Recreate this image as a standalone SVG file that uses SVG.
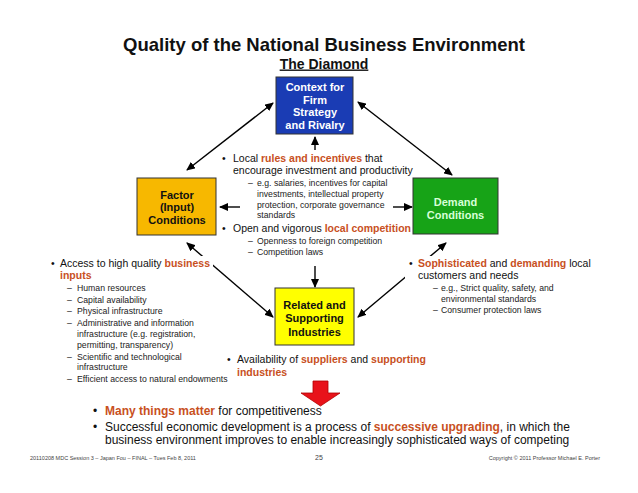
<svg xmlns="http://www.w3.org/2000/svg" width="638" height="493" viewBox="0 0 638 493">
<style>
text{font-family:"Liberation Sans",Arial,sans-serif;fill:#111}
.ttl{font-size:18.5px;font-weight:bold;text-anchor:middle}
.sub{font-size:14px;font-weight:bold;text-anchor:middle;text-decoration:underline}
.box{stroke:#333;stroke-width:1}
.bg{fill:#fff;stroke:none}
.bl{font-size:11px;font-weight:bold;text-anchor:middle}
.m{font-size:10.5px}
.s{font-size:8.7px;fill:#222}
.o{fill:#c8501e;font-weight:bold}
.big{font-size:12px}
.ft{font-size:5.5px;fill:#444}
.con{stroke:#000;stroke-width:1.4;fill:none}
</style>
<defs>
<marker id="ah" markerUnits="userSpaceOnUse" markerWidth="9" markerHeight="8" refX="8" refY="4" orient="auto-start-reverse">
<path d="M0,0 L9,4 L0,8 z" fill="#000"/>
</marker>
</defs>
<rect width="638" height="493" fill="#fff"/>
<text class="ttl" x="324" y="51">Quality of the National Business Environment</text>
<text class="sub" x="324" y="68.5">The Diamond</text>

<g id="connectors">
<line class="con" x1="273" y1="103" x2="187" y2="170" marker-start="url(#ah)" marker-end="url(#ah)"/>
<line class="con" x1="358" y1="102" x2="452" y2="175" marker-start="url(#ah)" marker-end="url(#ah)"/>
<line class="con" x1="187" y1="243" x2="273" y2="317" marker-start="url(#ah)" marker-end="url(#ah)"/>
<line class="con" x1="446" y1="243" x2="358" y2="317" marker-start="url(#ah)" marker-end="url(#ah)"/>
<line class="con" x1="315" y1="150" x2="315" y2="137" marker-end="url(#ah)"/>
<line class="con" x1="315" y1="266" x2="315" y2="287" marker-end="url(#ah)"/>
<line class="con" x1="240" y1="207" x2="220" y2="207" marker-end="url(#ah)"/>
<line class="con" x1="393" y1="207" x2="412" y2="207" marker-end="url(#ah)"/>
</g>

<g id="context">
<rect class="box" x="276" y="77" width="77" height="57" fill="#1a3cb4"/>
<text class="bl" style="fill:#fff" x="315" y="91">Context for</text>
<text class="bl" style="fill:#fff" x="315" y="103.5">Firm</text>
<text class="bl" style="fill:#fff" x="315" y="116">Strategy</text>
<text class="bl" style="fill:#fff" x="315" y="128.5">and Rivalry</text>
</g>

<g id="factor">
<rect class="box" x="137" y="178" width="79" height="57" fill="#f7b800"/>
<text class="bl" x="177" y="198.5">Factor</text>
<text class="bl" x="177" y="211">(Input)</text>
<text class="bl" x="177" y="223.5">Conditions</text>
</g>

<g id="demand">
<rect class="box" x="413" y="178" width="85" height="56" fill="#17a317"/>
<text class="bl" style="fill:#d8ffd8" x="455.5" y="206">Demand</text>
<text class="bl" style="fill:#d8ffd8" x="455.5" y="218.5">Conditions</text>
</g>

<g id="related">
<rect class="box" x="275" y="288" width="79" height="57" fill="#ffff00"/>
<text class="bl" x="314.5" y="309">Related and</text>
<text class="bl" x="314.5" y="322">Supporting</text>
<text class="bl" x="314.5" y="335.5">Industries</text>
</g>

<g id="context-text">
<text class="m" x="222" y="162">•</text>
<text class="m" x="233" y="162">Local <tspan class="o">rules and incentives</tspan> that</text>
<text class="m" x="233" y="174">encourage investment and productivity</text>
<text class="s" x="248" y="186">–</text>
<text class="s" x="257" y="186">e.g. salaries, incentives for capital</text>
<text class="s" x="257" y="197">investments, intellectual property</text>
<text class="s" x="257" y="208">protection, corporate governance</text>
<text class="s" x="257" y="218">standards</text>
<text class="m" x="222" y="232">•</text>
<text class="m" x="233" y="232">Open and vigorous <tspan class="o">local competition</tspan></text>
<text class="s" x="248" y="244">–</text>
<text class="s" x="257" y="244">Openness to foreign competition</text>
<text class="s" x="248" y="255">–</text>
<text class="s" x="257" y="255">Competition laws</text>
</g>

<g id="factor-text">
<rect class="bg" x="45" y="256" width="168" height="130"/>
<text class="m" x="51" y="267">•</text>
<text class="m" x="60" y="267">Access to high quality <tspan class="o">business</tspan></text>
<text class="m o" x="60" y="279">inputs</text>
<text class="s" x="67" y="291">–</text><text class="s" x="77" y="291">Human resources</text>
<text class="s" x="67" y="302.5">–</text><text class="s" x="77" y="302.5">Capital availability</text>
<text class="s" x="67" y="314">–</text><text class="s" x="77" y="314">Physical infrastructure</text>
<text class="s" x="67" y="325.5">–</text><text class="s" x="77" y="325.5">Administrative and information</text>
<text class="s" x="77" y="337">infrastructure (e.g. registration,</text>
<text class="s" x="77" y="348">permitting, transparency)</text>
<text class="s" x="67" y="359.5">–</text><text class="s" x="77" y="359.5">Scientific and technological</text>
<text class="s" x="77" y="370">infrastructure</text>
<text class="s" x="67" y="381.5">–</text><text class="s" x="77" y="381.5">Efficient access to natural endowments</text>
</g>

<g id="demand-text">
<rect class="bg" x="405" y="256" width="192" height="61"/>
<text class="m" x="409" y="267">•</text>
<text class="m" x="418" y="267"><tspan class="o">Sophisticated</tspan> and <tspan class="o">demanding</tspan> local</text>
<text class="m" x="418" y="279">customers and needs</text>
<text class="s" x="433" y="291">–</text><text class="s" x="441" y="291">e.g., Strict quality, safety, and</text>
<text class="s" x="441" y="302">environmental standards</text>
<text class="s" x="433" y="313">–</text><text class="s" x="441" y="313">Consumer protection laws</text>
</g>

<g id="related-text">
<text class="m" x="227" y="363">•</text>
<text class="m" x="237" y="363">Availability of <tspan class="o">suppliers</tspan> and <tspan class="o">supporting</tspan></text>
<text class="m o" x="237" y="376">industries</text>
</g>

<g id="down-arrow">
<polygon points="313,381 328,381 328,393 340,393 320.5,406 301,393 313,393" fill="#e8121a" stroke="#b00000" stroke-width="0.8"/>
</g>

<g id="conclusions">
<text class="big" x="93" y="415">•</text>
<text class="big" x="105" y="415"><tspan class="o">Many things matter</tspan> for competitiveness</text>
<text class="big" x="93" y="431">•</text>
<text class="big" x="105" y="431">Successful economic development is a process of <tspan class="o">successive upgrading</tspan>, in which the</text>
<text class="big" x="105" y="444">business environment improves to enable increasingly sophisticated ways of competing</text>
</g>

<g id="footer">
<text class="ft" x="30" y="460">20110208 MDC Session 3 – Japan Fou – FINAL – Tues Feb 8, 2011</text>
<text class="ft" style="font-size:7px" x="319" y="460" text-anchor="middle">25</text>
<text class="ft" x="600" y="460" text-anchor="end">Copyright © 2011 Professor Michael E. Porter</text>
</g>
</svg>
